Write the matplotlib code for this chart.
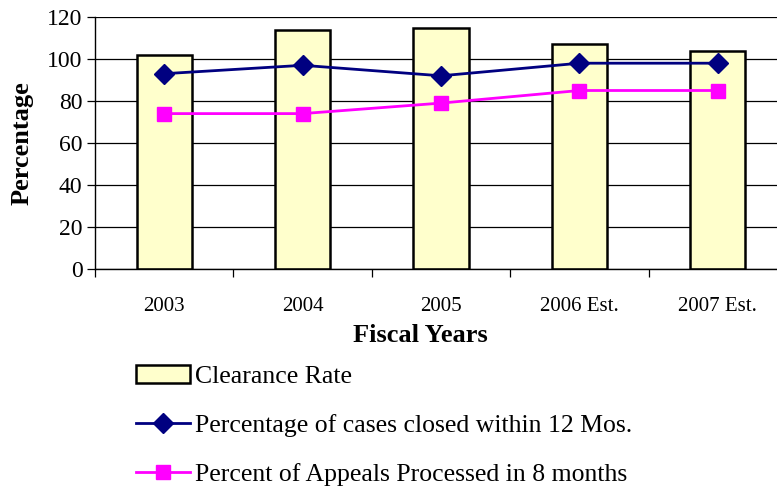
import numpy as np
import matplotlib.pyplot as plt
from matplotlib.lines import Line2D
from matplotlib.patches import Patch

years = ["2003", "2004", "2005", "2006 Est.", "2007 Est."]
clearance = [102, 114, 115, 107, 104]
closed_12 = [93, 97, 92, 98, 98]
appeals_8 = [74, 74, 79, 85, 85]

plt.rcParams['font.family'] = ['Liberation Serif', 'DejaVu Serif']

fig = plt.figure(figsize=(7.77, 4.86), dpi=100)
ax = fig.add_axes([95 / 777, 217 / 486, 692 / 777, 252 / 486])

x = np.arange(len(years))
ax.bar(x, clearance, width=0.4, color='#FFFFCC', edgecolor='black', linewidth=1.8, zorder=2)
ax.plot(x, closed_12, color='#000080', lw=2, marker='D', ms=10, zorder=3)
ax.plot(x, appeals_8, color='#FF00FF', lw=2, marker='s', ms=10, zorder=3)

ax.set_xlim(-0.5, len(years) - 0.5)
ax.set_ylim(0, 120)
ax.set_yticks(range(0, 121, 20))
ax.yaxis.grid(True, color='black', lw=0.9, zorder=0)
ax.set_axisbelow(True)

ax.set_xticks(x)
ax.set_xticklabels(years, fontsize=15)
ax.set_xticks(np.arange(-0.5, len(years), 1), minor=True)
ax.tick_params(axis='x', which='major', length=0, pad=20)
ax.tick_params(axis='x', which='minor', length=6, width=0.9, direction='out')
ax.tick_params(axis='y', labelsize=17, length=6, width=0.9, pad=3)

for s in ['top', 'right']:
    ax.spines[s].set_visible(False)
for s in ['left', 'bottom']:
    ax.spines[s].set_linewidth(1.0)

ax.set_ylabel("Percentage", fontsize=19, fontweight='bold', labelpad=10)
fig.text(420 / 777, 1 - 335 / 486, "Fiscal Years", fontsize=19, fontweight='bold',
         ha='center', va='center')

handles = [
    Patch(facecolor='#FFFFCC', edgecolor='black', linewidth=1.8),
    Line2D([], [], color='#000080', lw=2, marker='D', ms=10),
    Line2D([], [], color='#FF00FF', lw=2, marker='s', ms=10),
]
labels = ["Clearance Rate", "Percentage of cases closed within 12 Mos.",
          "Percent of Appeals Processed in 8 months"]
fig.legend(handles, labels, loc='upper left', bbox_to_anchor=(126 / 777, 1 - 355 / 486),
           frameon=False, fontsize=18.5, handlelength=2.1, handletextpad=0.2,
           labelspacing=1.0, borderaxespad=0)

fig.savefig("out.png", dpi=100)
